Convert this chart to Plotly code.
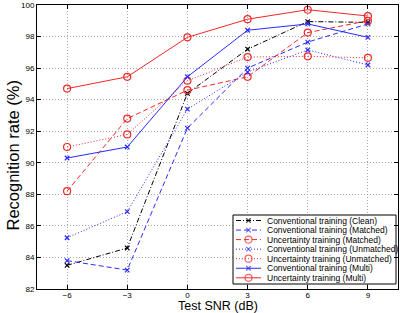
import plotly.graph_objects as go

snr = [-6, -3, 0, 3, 6, 9]
x_ticks = [-6, -3, 0, 3, 6, 9]
y_ticks = [82, 84, 86, 88, 90, 92, 94, 96, 98, 100]

names = [
    "Conventional training (Clean)",
    "Conventional training (Matched)",
    "Uncertainty training (Matched)",
    "Conventional training (Unmatched)",
    "Uncertainty training (Unmatched)",
    "Conventional training (Multi)",
    "Uncertainty training (Multi)",
]
conv_clean = [83.5, 84.6, 94.4, 97.2, 98.95, 98.9]
conv_matched = [83.8, 83.2, 92.2, 96.0, 97.65, 98.8]
unc_matched = [88.2, 92.8, 94.6, 95.45, 98.25, 99.0]
conv_unmatched = [85.25, 86.9, 93.4, 95.75, 97.15, 96.2]
unc_unmatched = [91.0, 91.8, 95.2, 96.7, 96.75, 96.65]
conv_multi = [90.3, 91.0, 95.45, 98.4, 98.8, 97.95]
unc_multi = [94.7, 95.45, 97.95, 99.1, 99.7, 99.3]

series = [conv_clean, conv_matched, unc_matched, conv_unmatched,
          unc_unmatched, conv_multi, unc_multi]
colors = ["black", "#2a2aff", "#f02828", "#2a2aff", "#f02828", "#2a2aff", "#f02828"]
DASH = "5px,3px"
DOT = "1px,2px"
DASHDOT = "5px,2px,1px,2px"
dashes = [DASHDOT, DASH, DASH, DOT, DOT, "solid", "solid"]
symbols = ["x-thin", "x-thin", "circle-open", "x-thin", "circle-open", "x-thin", "circle-open"]
msizes = [4.5, 4.5, 7, 4.5, 7, 4.5, 7]

fig = go.Figure()
for n, ys, c, d, s, ms in zip(names, series, colors, dashes, symbols, msizes):
    fig.add_trace(go.Scatter(
        x=snr, y=ys, name=n, mode="lines+markers",
        line=dict(color=c, dash=d, width=1),
        marker=dict(symbol=s, size=ms, color=c, line=dict(color=c, width=1.2)),
        showlegend=False,
    ))

# legend drawn on an overlay pixel-like axis
L, R, T, B = 37, 398, 5, 289
bx0, bx1, by0, by1 = 233, 396, 215, 284
fig.add_trace(go.Scatter(
    x=[bx0, bx1, bx1, bx0, bx0], y=[by0, by0, by1, by1, by0],
    xaxis="x2", yaxis="y2", mode="lines", fill="toself",
    fillcolor="white", line=dict(color="black", width=1),
    showlegend=False, hoverinfo="skip",
))
row0, step = 220.5, 9.55
for i, (n, c, d, s, ms) in enumerate(zip(names, colors, dashes, symbols, msizes)):
    ry = row0 + i * step
    fig.add_trace(go.Scatter(
        x=[236, 248.5, 261], y=[ry, ry, ry], xaxis="x2", yaxis="y2",
        mode="lines+markers",
        line=dict(color=c, dash=d, width=1),
        marker=dict(symbol=s, size=[0, ms, 0], color=c, line=dict(color=c, width=1.2)),
        showlegend=False, hoverinfo="skip",
    ))
    fig.add_annotation(
        x=265, y=ry, xref="x2", yref="y2", text=n, showarrow=False,
        xanchor="left", yanchor="middle",
        font=dict(family="Liberation Sans, Arial", size=8.5, color="black"),
    )

W, H = R - L, B - T
# axis titles
fig.add_annotation(
    x=(12.5 - L) / W, y=(B - 156) / H, xref="paper", yref="paper",
    text="Recognition rate (%)", textangle=-90, showarrow=False,
    xanchor="center", yanchor="middle",
    font=dict(family="Liberation Sans, Arial", size=16.5, color="black"),
)
fig.add_annotation(
    x=(217.5 - L) / W, y=(B - 306) / H, xref="paper", yref="paper",
    text="Test SNR (dB)", showarrow=False, borderpad=0,
    xanchor="center", yanchor="middle",
    font=dict(family="Liberation Sans, Arial", size=12.5, color="black"),
)

axis_common = dict(
    showline=True, linecolor="black", linewidth=1, mirror="ticks",
    ticks="inside", ticklen=4, tickcolor="black", automargin=False,
    showgrid=True, gridcolor="#a8a8a8", griddash="1px,2px", gridwidth=1,
    zeroline=False,
    tickfont=dict(family="Liberation Sans, Arial", size=8, color="black"),
)

fig.update_layout(
    width=401, height=313,
    margin=dict(l=L, r=401 - R, t=T, b=313 - B),
    paper_bgcolor="white", plot_bgcolor="white",
    xaxis=dict(range=[-7.5, 10.5], tickvals=x_ticks, ticklabelstandoff=-2, **axis_common),
    yaxis=dict(range=[82, 100], tickvals=y_ticks, **axis_common),
    xaxis2=dict(range=[L, R], overlaying="x", anchor="y2", visible=False, fixedrange=True),
    yaxis2=dict(range=[B, T], overlaying="y", anchor="x2", visible=False, fixedrange=True),
    showlegend=False,
)

fig.write_html("out.html")
